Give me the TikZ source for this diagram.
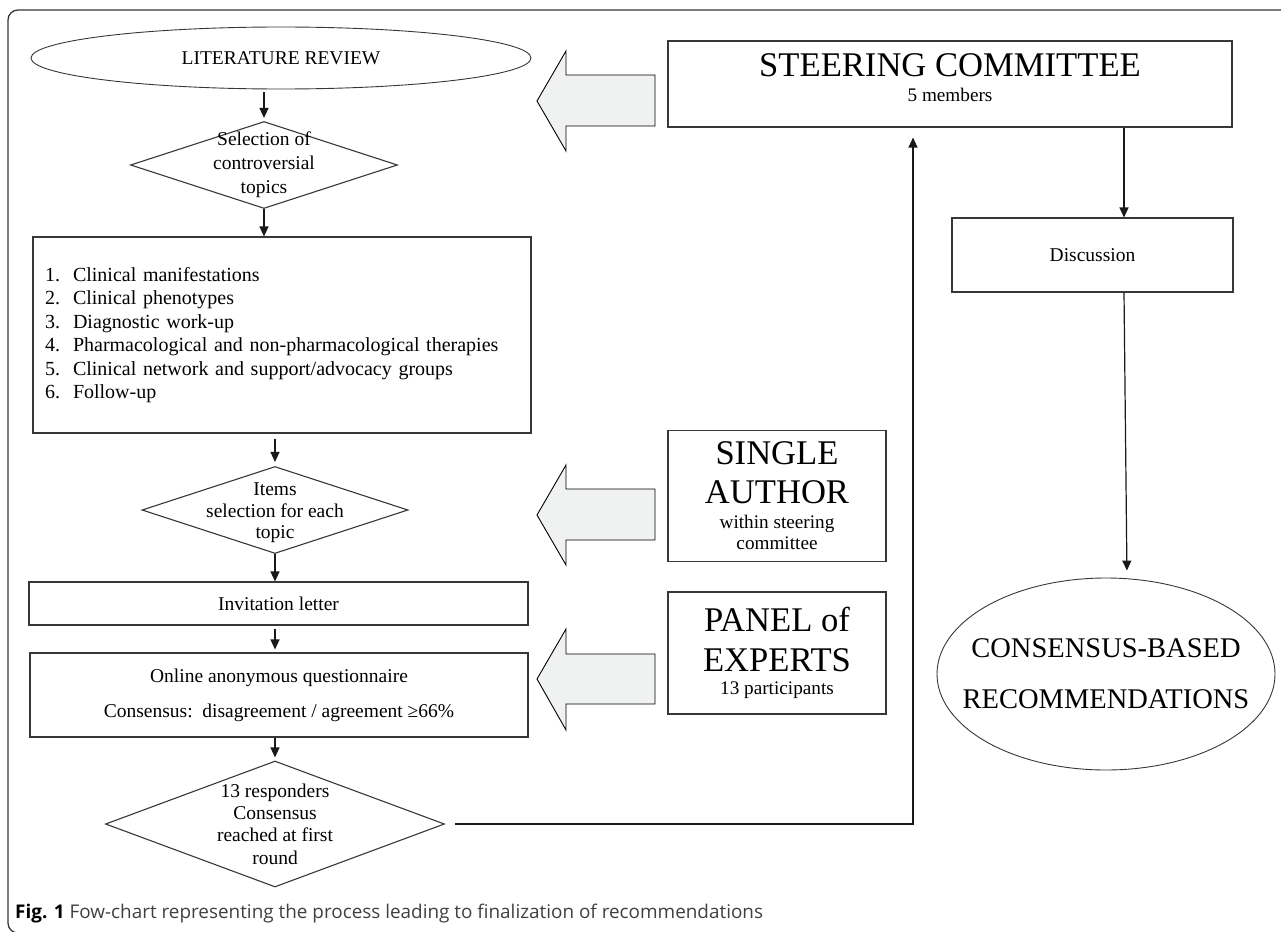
\documentclass[tikz,border=0pt]{standalone}
\usepackage{fontspec}
\setmainfont{Liberation Serif}
\newfontfamily\capfont{Open Sans}
\usetikzlibrary{shapes.geometric,arrows.meta,calc}

\definecolor{arrowgray}{RGB}{240,242,241}
\definecolor{linegray}{RGB}{55,55,55}

\newcommand{\bodysize}{\fontsize{19.5}{23.3}\selectfont}
\newcommand{\listsize}{\fontsize{20}{23.4}\selectfont}
\newcommand{\subsize}{\fontsize{19.2}{21}\selectfont}
\newcommand{\bigsize}{\fontsize{34.6}{39.5}\selectfont}
\newcommand{\ovalsize}{\fontsize{28.5}{34}\selectfont}

\tikzset{
  box/.style={draw=linegray, line width=1.1pt, rectangle, inner sep=0pt, align=center},
  decision/.style={draw=linegray, line width=1.1pt, diamond, inner sep=0pt},
  oval/.style={draw=linegray, line width=0.9pt, ellipse, inner sep=0pt, align=center},
  conn/.style={draw=black!90, line width=1.2pt, -{Triangle[length=10pt,width=9pt]}},
  bigarrow/.style={draw=black, line width=0.9pt, fill=arrowgray, line join=miter},
}

\begin{document}
\begin{tikzpicture}[x=1pt, y=-1pt]
  \useasboundingbox (0,0) rectangle (1281,931);
  \draw[linegray, line width=1.3pt, rounded corners=10pt] (8,10) rectangle (1300,933);

  % left column
  \node[oval, minimum width=500pt, minimum height=62pt, font=\bodysize] (lit) at (281,58) {LITERATURE REVIEW};
  \node[decision, minimum width=267pt, minimum height=87pt,
    label={[font=\fontsize{19.5}{24}\selectfont, align=center]center:{Selection of\\controversial\\topics}}] (sel) at (264,165) {};
  \node[box, minimum width=498pt, minimum height=196pt, font=\listsize, text width=474pt, align=left] (topics) at (282,335)
    {\makebox[28pt][l]{1.}Clinical manifestations\\
     \makebox[28pt][l]{2.}Clinical phenotypes\\
     \makebox[28pt][l]{3.}Diagnostic work-up\\
     \makebox[28pt][l]{4.}Pharmacological and non-pharmacological therapies\\
     \makebox[28pt][l]{5.}Clinical network and support/advocacy groups\\
     \makebox[28pt][l]{6.}Follow-up};
  \node[decision, minimum width=266pt, minimum height=87pt,
    label={[font=\fontsize{19.5}{21.5}\selectfont, align=center, yshift=-3pt]center:{Items\\selection for each\\topic}}] (items) at (275,510) {};
  \node[box, minimum width=499pt, minimum height=43pt, font=\bodysize] (invite) at (278.5,603.5) {Invitation letter};
  \node[box, minimum width=498pt, minimum height=84pt, font=\bodysize] (survey) at (279,695)
    {Online anonymous questionnaire\\[11.7pt]Consensus:\ \ disagreement / agreement ≥66\%};
  \node[decision, minimum width=339pt, minimum height=126pt,
    label={[font=\fontsize{19.5}{22.4}\selectfont, align=center]center:{13 responders\\Consensus\\reached at first\\round}}] (resp) at (275,824) {};

  % right side
  \node[box, minimum width=564pt, minimum height=86pt, font=\subsize, text depth=12pt] (steer) at (950,84)
    {\bigsize STEERING COMMITTEE\\[4pt]5 members};
  \node[box, minimum width=281pt, minimum height=74pt, font=\bodysize] (talk) at (1092.5,255) {Discussion};
  \node[box, minimum width=218pt, minimum height=131pt, font=\subsize] (author) at (777,496)
    {\bigsize SINGLE\\[15pt]\bigsize AUTHOR\\[4pt]within steering\\committee};
  \node[box, minimum width=218pt, minimum height=122pt, font=\subsize] (panel) at (777,653)
    {\bigsize PANEL of\\[16pt]\bigsize EXPERTS\\[2pt]13 participants};
  \node[oval, minimum width=338pt, minimum height=192pt,
    label={[font=\ovalsize, align=center]center:{CONSENSUS-BASED\\[17pt]RECOMMENDATIONS}}] (cons) at (1106,674) {};

  % block arrows
  \draw[bigarrow] (655,75) -- (566,75) -- (566,51) -- (537,101) -- (566,151) -- (566,126) -- (655,126) -- cycle;
  \draw[bigarrow] (655,489) -- (566,489) -- (566,465) -- (537,515) -- (566,565) -- (566,540) -- (655,540) -- cycle;
  \draw[bigarrow] (655,654) -- (566,654) -- (566,629) -- (537,679) -- (566,730) -- (566,704) -- (655,704) -- cycle;

  % connectors
  \coordinate (upline) at (913,822);
  \coordinate (rightline) at (1124,0);
  \draw[conn, shorten <=3pt, shorten >=3pt] (lit.south -| sel.north) -- (sel.north);
  \draw[conn] (sel.south) -- (sel.south |- topics.north);
  \draw[conn, shorten <=5pt, shorten >=4pt] (items.north |- topics.south) -- (items.north);
  \draw[conn] (items.south) -- (items.south |- invite.north);
  \draw[conn, shorten <=3pt, shorten >=3pt] (invite.south -| items.south) -- (survey.north -| items.south);
  \draw[conn, shorten >=3pt] (resp.north |- survey.south) -- (resp.north);
  \draw[conn, shorten <=10pt] (resp.east) -| ([yshift=-10pt]steer.south -| upline);
  \draw[conn] (steer.south -| rightline) -- (talk.north -| rightline);
  \draw[conn, shorten >=7pt] (talk.south -| rightline) -- ($(cons.north)+(21,0)$);

  % caption
  \node[anchor=base west, inner sep=0pt, font=\capfont\fontsize{18.9}{21}\selectfont, text=black!75] (caption) at (15,918)
    {\textcolor{black}{\bfseries Fig. 1} Fow-chart representing the process leading to finalization of recommendations};
\end{tikzpicture}
\end{document}
